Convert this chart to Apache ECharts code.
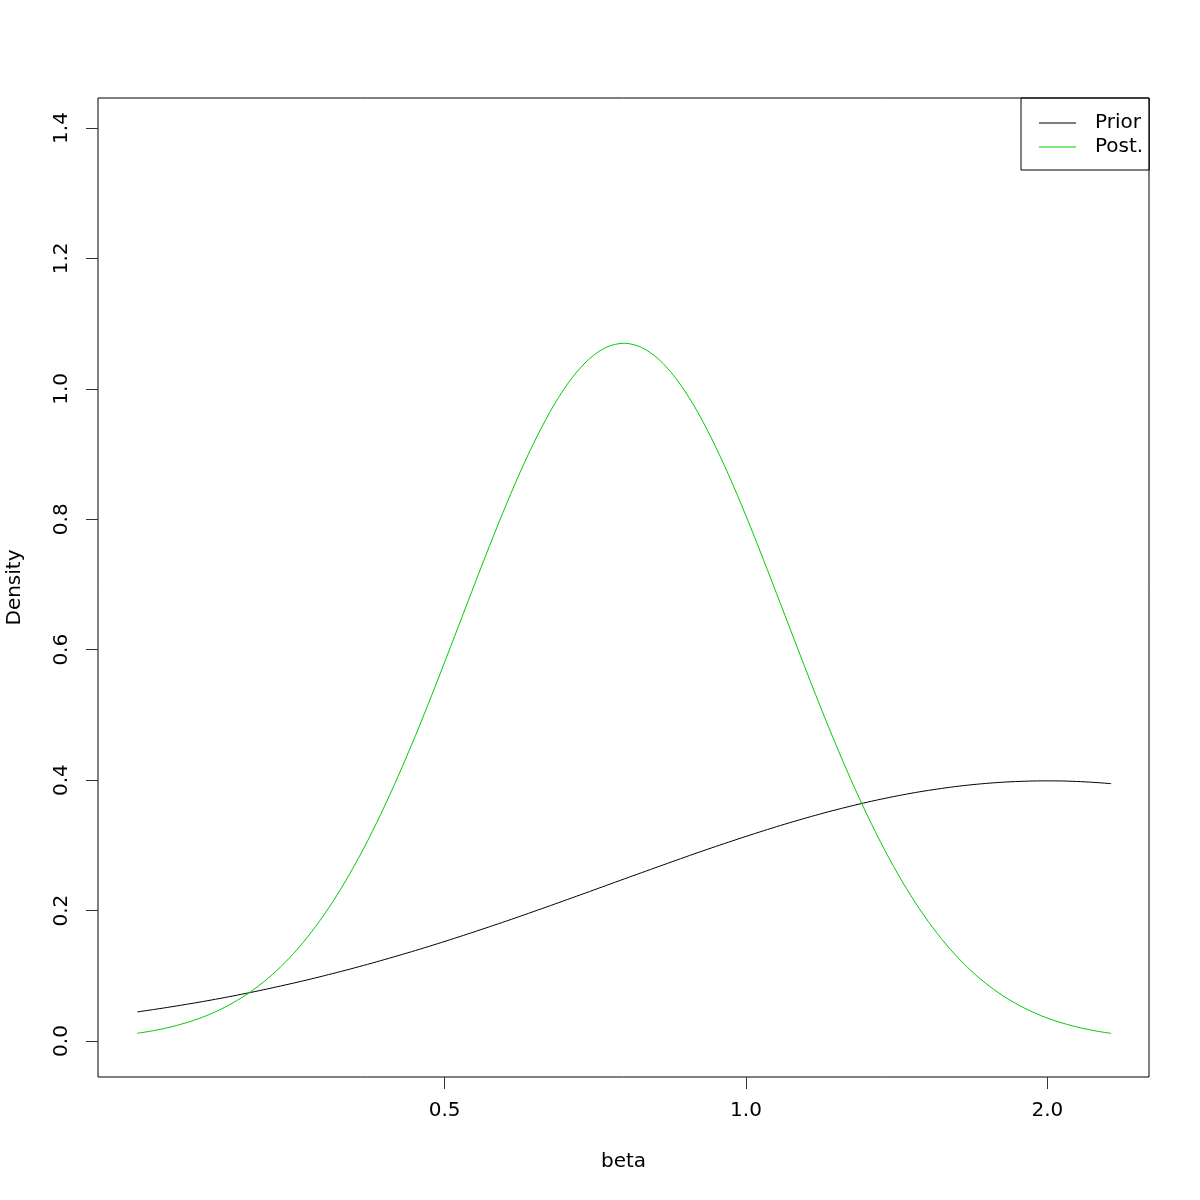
<!DOCTYPE html>
<html>
<head>
<meta charset="utf-8">
<script src="https://cdn.jsdelivr.net/npm/echarts@6/dist/echarts.min.js"></script>
<style>html,body{margin:0;padding:0;background:#fff}#c{width:1200px;height:1200px}</style>
</head>
<body>
<div id="c"></div>
<script>
const betaValues = [0.2466,0.2567,0.2671,0.2780,0.2894,0.3012,0.3135,0.3263,0.3396,0.3535,0.3679,0.3829,0.3985,0.4148,0.4317,0.4493,0.4677,0.4868,0.5066,0.5273,0.5488,0.5712,0.5945,0.6188,0.6440,0.6703,0.6977,0.7261,0.7558,0.7866,0.8187,0.8521,0.8869,0.9231,0.9608,1.0000,1.0408,1.0833,1.1275,1.1735,1.2214,1.2712,1.3231,1.3771,1.4333,1.4918,1.5527,1.6161,1.6820,1.7507,1.8221,1.8965,1.9739,2.0544,2.1383,2.2255,2.3164];
const priorDensity = [0.0446,0.0485,0.0526,0.0570,0.0616,0.0665,0.0717,0.0771,0.0829,0.0889,0.0952,0.1018,0.1086,0.1158,0.1232,0.1309,0.1388,0.1470,0.1554,0.1641,0.1729,0.1819,0.1911,0.2005,0.2099,0.2195,0.2291,0.2388,0.2485,0.2581,0.2677,0.2772,0.2867,0.2959,0.3049,0.3137,0.3223,0.3306,0.3385,0.3461,0.3533,0.3600,0.3663,0.3721,0.3774,0.3822,0.3863,0.3900,0.3930,0.3954,0.3972,0.3983,0.3989,0.3988,0.3980,0.3966,0.3946];
const postDensity = [0.0118,0.0162,0.0220,0.0295,0.0391,0.0513,0.0664,0.0850,0.1076,0.1346,0.1666,0.2037,0.2463,0.2943,0.3477,0.4059,0.4687,0.5349,0.6034,0.6729,0.7419,0.8086,0.8712,0.9279,0.9770,1.0168,1.0462,1.0641,1.0700,1.0635,1.0451,1.0151,0.9748,0.9252,0.8682,0.8054,0.7385,0.6695,0.6000,0.5315,0.4654,0.4030,0.3449,0.2917,0.2440,0.2017,0.1649,0.1332,0.1064,0.0840,0.0656,0.0506,0.0386,0.0291,0.0217,0.0160,0.0116];
const xTicks = [0.5, 1.0, 2.0];
const yTicks = [0, 0.2, 0.4, 0.6, 0.8, 1.0, 1.2, 1.4];

const font = 'DejaVu Sans';
const fs = 20;
const chart = echarts.init(document.getElementById('c'), null, {renderer: 'canvas'});
chart.setOption({
  animation: false,
  backgroundColor: '#fff',
  grid: {left: 98, right: 51, top: 98, bottom: 123, show: true, borderColor: '#000', borderWidth: 1, backgroundColor: 'transparent', containLabel: false, outerBoundsMode: 'none'},
  legend: {
    orient: 'vertical', left: 1021, top: 98,
    borderColor: '#000', borderWidth: 1, borderRadius: 0,
    padding: [15, 6, 13, 18],
    icon: 'rect',
    itemWidth: 37, itemHeight: 1, itemGap: 4,
    textStyle: {fontFamily: font, fontSize: fs, lineHeight: 20, color: '#000', padding: [0, 0, 0, 14]},
    data: ['Prior', 'Post.']
  },
  xAxis: {
    type: 'log', logBase: Math.E, min: 0.2253, max: 2.527,
    name: 'beta', nameLocation: 'middle', nameGap: 75,
    nameTextStyle: {fontFamily: font, fontSize: fs, color: '#000'},
    axisLine: {show: false, onZero: false},
    splitLine: {show: false},
    axisTick: {show: true, length: 12, inside: false, lineStyle: {color: '#333'}, customValues: xTicks},
    axisLabel: {fontFamily: font, fontSize: fs, color: '#000', margin: 24, customValues: xTicks, formatter: v => Number(v).toFixed(1)}
  },
  yAxis: {
    type: 'value', min: -0.0552, max: 1.446,
    name: 'Density', nameLocation: 'middle', nameGap: 73,
    nameTextStyle: {fontFamily: font, fontSize: fs, color: '#000'},
    axisLine: {show: false, onZero: false},
    splitLine: {show: false},
    axisTick: {show: true, length: 12, lineStyle: {color: '#333'}, customValues: yTicks},
    axisLabel: {fontFamily: font, fontSize: fs, color: '#000', rotate: 90, margin: 26, customValues: yTicks, formatter: v => Number(v).toFixed(1)}
  },
  series: [
    {name: 'Prior', type: 'line', symbol: 'none', smooth: 0.3, lineStyle: {color: '#000', width: 1}, itemStyle: {color: '#000'},
     data: betaValues.map((b, i) => [b, priorDensity[i]])},
    {name: 'Post.', type: 'line', symbol: 'none', smooth: 0.3, lineStyle: {color: '#00CD00', width: 1}, itemStyle: {color: '#00CD00'},
     data: betaValues.map((b, i) => [b, postDensity[i]])}
  ]
});
</script>
</body>
</html>
